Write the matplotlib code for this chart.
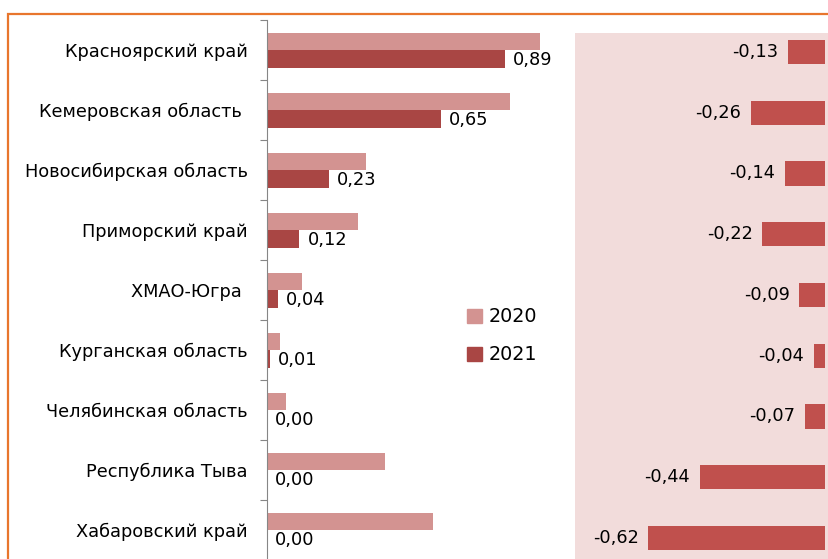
import numpy as np
import matplotlib
matplotlib.use("Agg")
import matplotlib.pyplot as plt
from matplotlib.patches import Patch, Rectangle

regions = ["Красноярский край", "Кемеровская область ", "Новосибирская область",
           "Приморский край", "ХМАО-Югра ", "Курганская область",
           "Челябинская область", "Республика Тыва", "Хабаровский край"]
values_2020 = [1.02, 0.91, 0.37, 0.34, 0.13, 0.05, 0.07, 0.44, 0.62]
values_2021 = [0.89, 0.65, 0.23, 0.12, 0.04, 0.01, 0.00, 0.00, 0.00]
change = [-0.13, -0.26, -0.14, -0.22, -0.09, -0.04, -0.07, -0.44, -0.62]
labels_2021 = ["0,89", "0,65", "0,23", "0,12", "0,04", "0,01", "0,00", "0,00", "0,00"]
labels_change = ["-0,13", "-0,26", "-0,14", "-0,22", "-0,09", "-0,04", "-0,07", "-0,44", "-0,62"]

plt.rcParams['font.family'] = ['DejaVu Sans']
fs = 12.8

W, H = 829, 559
fig = plt.figure(figsize=(W / 100, H / 100), dpi=100)


def px_axes(x0, y0, x1, y1):
    return fig.add_axes([x0 / W, 1 - y1 / H, (x1 - x0) / W, (y1 - y0) / H])


c2020 = '#D39391'
c2021 = '#A94644'
cchg = '#C0504D'

# left panel: 2020 vs 2021
ax = px_axes(267, 20, 575, 560)
y = np.arange(len(regions))
ax.barh(y - 0.145, values_2020, height=0.29, color=c2020, label='2020')
ax.barh(y + 0.15, values_2021, height=0.29, color=c2021, label='2021')
for yi, v, t in zip(y, values_2021, labels_2021):
    ax.annotate(t, (v, yi + 0.16), xytext=(6, 0), textcoords='offset points',
                ha='left', va='center', fontsize=fs)
ax.set_xlim(0, (575 - 267) / 267.4)
ax.set_ylim(len(regions) - 0.5, -0.5)
for s in ['top', 'right', 'bottom']:
    ax.spines[s].set_visible(False)
ax.spines['left'].set_color('#868686')
ax.set_xticks([])
ax.set_yticks(np.arange(-0.5, len(regions), 1.0))
ax.set_yticklabels([])
ax.tick_params(axis='y', which='major', direction='out', length=5, color='#868686')
ax.set_yticks(y, minor=True)
ax.set_yticklabels(regions, minor=True, fontsize=fs)
ax.tick_params(axis='y', which='minor', length=0, pad=14)

handles = [Patch(color=c2020), Patch(color=c2021)]
ax.legend(handles, ['2020', '2021'], loc='upper left', frameon=False, fontsize=fs + 1,
          bbox_to_anchor=((450 - 267) / 308, (560 - 290) / 540),
          handlelength=0.75, handleheight=0.75, handletextpad=0.35, labelspacing=1.0)

# right panel: change
ax2 = px_axes(575, 33, 840, 575)
ax2.set_facecolor('#F2DCDB')
ax2.barh(y, change, height=0.40, color=cchg)
for yi, v, t in zip(y, change, labels_change):
    ax2.annotate(t, (v, yi), xytext=(-7, 0), textcoords='offset points',
                 ha='right', va='center', fontsize=fs)
ax2.set_xlim(-(825 - 575) / 285, (840 - 825) / 285)
ax2.set_ylim((575 - 52) / 60.75, -(52 - 33) / 60.75)
for s in ax2.spines.values():
    s.set_visible(False)
ax2.set_xticks([])
ax2.set_yticks([])

# orange frame
fig.add_artist(Rectangle((8 / W, -0.1), 1.2, 1.1 - 14 / H, transform=fig.transFigure,
                         fill=False, edgecolor='#E8762D', lw=1.6))

fig.savefig('out.png', dpi=100)
